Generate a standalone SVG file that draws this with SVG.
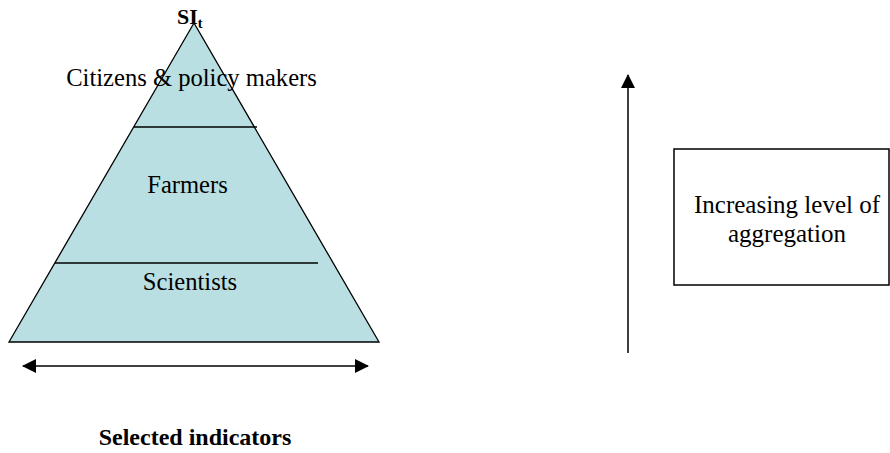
<svg xmlns="http://www.w3.org/2000/svg" width="890" height="453" viewBox="0 0 890 453">
  <style>
    .lbl { font-family: "Liberation Serif", "Times New Roman", serif; font-size: 24.6px; fill: #000; text-anchor: middle; }
    .bold { font-weight: bold; }
    .edge { stroke: #000; stroke-width: 1.5; fill: none; }
  </style>
  <defs>
    <marker id="head" viewBox="0 0 14 14" refX="13" refY="7" markerWidth="14" markerHeight="14" markerUnits="userSpaceOnUse" orient="auto-start-reverse">
      <path d="M0,0 L14,7 L0,14 Z" fill="#000"/>
    </marker>
  </defs>

  <!-- pyramid of audiences -->
  <g id="pyramid">
    <polygon points="194,23 9,342 379,342" fill="#b9dfe2" stroke="#000" stroke-width="1.3"/>
    <line x1="134" y1="127" x2="257" y2="127" stroke="#000" stroke-width="1.5"/>
    <line x1="55" y1="263" x2="318" y2="263" stroke="#000" stroke-width="1.5"/>
  </g>

  <g id="apex-label">
    <text x="177" y="24" class="lbl bold" style="text-anchor:start;font-size:22px">SI<tspan dy="4" style="font-size:14px">t</tspan></text>
  </g>
  <g id="citizens">
    <text x="191.5" y="86" class="lbl">Citizens &amp; policy makers</text>
  </g>
  <g id="farmers">
    <text x="187.5" y="193" class="lbl">Farmers</text>
  </g>
  <g id="scientists">
    <text x="190" y="290" class="lbl">Scientists</text>
  </g>

  <!-- aggregation caption -->
  <g id="aggregation">
    <rect x="674" y="149" width="215" height="136" fill="#fff" stroke="#000" stroke-width="1.5"/>
    <text x="787" y="213" class="lbl" style="font-size:25px">Increasing level of</text>
    <text x="787" y="242" class="lbl" style="font-size:25px">aggregation</text>
  </g>

  <g id="indicators">
    <text x="195" y="445" class="lbl bold" style="font-size:24px">Selected indicators</text>
  </g>

  <!-- connectors -->
  <g id="connectors">
    <line x1="23" y1="366" x2="368" y2="366" class="edge" marker-start="url(#head)" marker-end="url(#head)"/>
    <line x1="628" y1="353" x2="628" y2="75" class="edge" marker-end="url(#head)"/>
  </g>
</svg>
